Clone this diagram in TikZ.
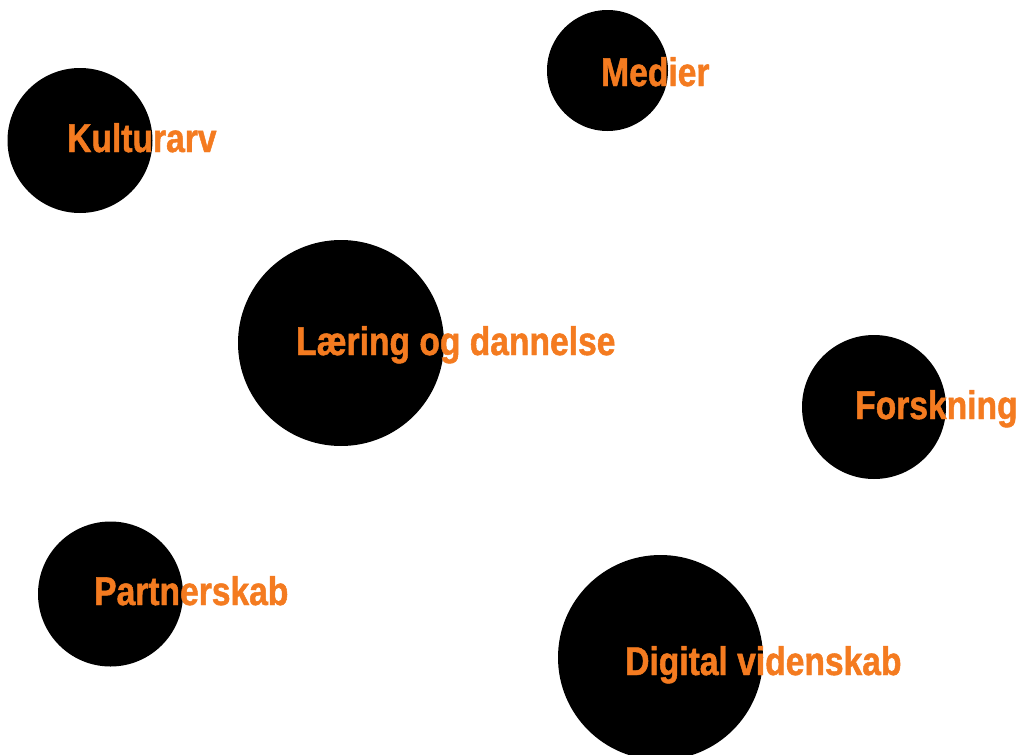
\documentclass[tikz,border=0pt]{standalone}
\usepackage{fontspec}
\setmainfont{Liberation Sans}
\newfontfamily\labelfont[FakeStretch=0.84,FakeBold=1.2]{Liberation Sans Bold}
\definecolor{topicorange}{RGB}{244,123,32}
\begin{document}
\begin{tikzpicture}[x=1pt,y=-1pt,
  bubble/.style={circle,fill=black,draw=none,inner sep=0pt,minimum size=#1},
  topic/.style={anchor=base west,inner sep=0pt,text=topicorange,font=\labelfont\fontsize{40}{40}\selectfont}]
\useasboundingbox (0,0) rectangle (1018,755);
\clip (0,0) rectangle (1018,755);
\node[bubble=145pt] (ck) at (80,140.5) {};
\node[bubble=121pt] (cm) at (607.5,70.5) {};
\node[bubble=206pt] (cl) at (341,343) {};
\node[bubble=144pt] (cf) at (874,407) {};
\node[bubble=145pt] (cp) at (110.5,594) {};
\node[bubble=205pt] (cd) at (660.5,657.5) {};
\node[topic] (tk) at (67,152) {Kulturarv};
\node[topic] (tm) at (601,86) {Medier};
\node[topic] (tl) at (296,355) {Læring og dannelse};
\node[topic] (tf) at (855,419) {Forskning};
\node[topic] (tp) at (94,605) {Partnerskab};
\node[topic] (td) at (625,675) {Digital videnskab};
\end{tikzpicture}
\end{document}
